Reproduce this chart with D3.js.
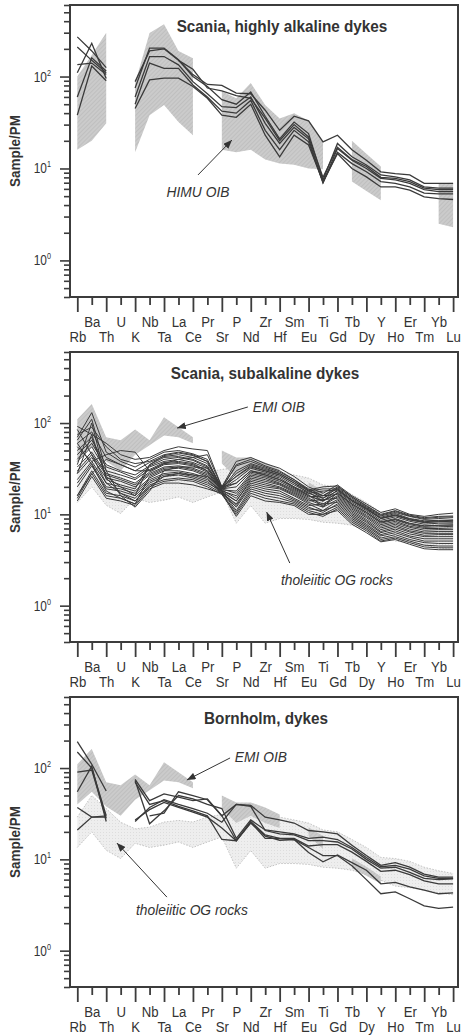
<!DOCTYPE html>
<html>
<head>
<meta charset="utf-8">
<script src="https://cdn.jsdelivr.net/npm/d3@7"></script>
<style>
  body { margin: 0; background: #fff; }
  svg { display: block; }
  text { font-family: "Liberation Sans", Arial, Helvetica, sans-serif; fill: #333; }
</style>
</head>
<body>
<svg id="chart" width="463" height="1035"></svg>
<script>
// Primitive-mantle normalised trace-element order
const elements = ["Rb","Ba","Th","U","K","Nb","Ta","La","Ce","Pr","Sr","P","Nd","Zr","Hf","Sm","Eu","Ti","Gd","Tb","Dy","Y","Ho","Er","Tm","Yb","Lu"];

// HIMU OIB field (Sample/PM), gaps where the reference data have no value
const himuUpper = [100, 172, 300, null, 85, 297, 370, 190, 158, null, 69, 58, 85, 49, 35, 40, 33, 19, null, 20, 14.5, 10.5, null, null, null, 6.9, 7.0];
const himuLower = [16, 20, 31, null, 15, 38, 49, 32, 23, null, 16, 15, 16, 12.5, 11.3, 11, 10, 9.8, null, 7.2, 5.7, 4.5, null, null, null, 2.5, 2.3];

// EMI OIB field
const emiUpper = [110, 162, 70, 65, 85, 65, 116, 90, 70, null, 50, 42, 42, 37, 31, null, 22.5, 18, null, 10.3, 8.3, 6.5, null, null, null, null, null];
const emiLower = [40, 55, 38, 30, 45, 57, 73, 70, 60, null, 36, 25, 30, 25, 22, null, 18, 13, null, 8, 6.6, 5.4, null, null, null, null, null];

// Tholeiitic oceanic-island (OG) rocks field
const tholUpper = [29, 50, 36, 25.5, 21.6, 22.5, 25.6, 26.7, 25.6, 29, 31, 33, 35, 32, 29, 27, 25, 21, 20, 16.5, 13.5, 10.5, 10.2, 9.5, 8.2, 7.5, 7.0];
const tholLower = [13.5, 20, 12.6, 10.2, 15, 13.5, 14.3, 15.5, 13.5, 15.5, 17.6, 8, 12.5, 8, 9, 9, 8.8, 8.2, 8, 7.6, 6.8, 5.9, 5.1, 4.9, 4.6, 4.3, 4.1];

// Scania, highly alkaline dykes
const alkalineSamples = [
  [270, 190, 125, null, 88, 190, 200, 150, 105, 82, 80, 66, 65, 43, 26, 37, 33, 19.5, 23, 16, 12.3, 9.2, 8.8, 8.5, 6.9, 6.9, 6.9],
  [210, 150, 110, null, 75, 204, 204, 152, 100, 78, 56, 50, 68, 37, 21, 32, 24, 7.5, 18.7, 13.4, 10.9, 8.5, 8.1, 7.5, 6.3, 6.1, 6.1],
  [135, 140, 105, null, 60, 165, 165, 134, 88, 65, 47, 46, 60, 31, 18.7, 28, 21, 7.0, 16.5, 12.3, 10, 7.8, 7.5, 6.9, 5.9, 5.6, 5.6],
  [110, 230, 95, null, 50, 140, 123, 123, 81, 60, 42, 40, 55, 26, 16, 26, 19.5, 7.0, 15, 11.3, 9.2, 7.2, 6.9, 6.3, 5.4, 5.3, 5.3],
  [60, 160, 115, null, 45, 92, 96, 96, 78, 58, 38, 36, 50, 23, 13.4, 23, 18, 7.2, 14.5, 10, 8.1, 6.3, 6.3, 5.8, 4.9, 4.7, 4.6],
  [38, 130, 90, null, null, null, null, 150, 120, 75, 70, 62, 58, 35, 20, 30, 22, 8, 17, 12.5, 10.5, 8, 7.8, 7.2, 6.1, 5.9, 5.9]
];

// Scania, subalkaline dykes
const subalkalineSamples = [
  [92, 75, 60, 45, 40, 42, 50, 55, 52, 50, 20, 38, 42, 36, 32, 26, 20, 17, 21, 16, 13, 10.5, 11.5, 10, 9.5, 10, 10.3],
  [70, 130, 48, 38, 33, 40, 48, 50, 46, 40, 19, 35, 40, 34, 30, 24, 19, 16, 20, 15.5, 12.5, 10, 11, 9.8, 9.2, 9.5, 9.6],
  [75, 90, 55, 40, 36, 38, 45, 48, 45, 38, 19, 30, 36, 32, 28, 23, 18.5, 15, 19.5, 15, 12, 9.6, 10.5, 9.5, 8.8, 9, 9.2],
  [60, 80, 42, 35, 30, 37, 43, 45, 42, 36, 20, 26, 34, 30, 27, 22, 18, 19, 19, 14.5, 11.8, 9.3, 10.2, 9, 8.5, 8.6, 8.7],
  [50, 70, 26, 20, 16, 35, 42, 43, 40, 34, 19, 24, 32, 29, 26, 21, 17.5, 14, 18.5, 14, 11.3, 9, 9.8, 8.7, 8.2, 8.3, 8.4],
  [45, 65, 35, 30, 27, 34, 40, 42, 39, 33, 20, 22, 30, 28, 25, 20, 17, 15, 18, 13.5, 11, 8.6, 9.4, 8.4, 7.8, 8, 8],
  [40, 60, 33, 29, 25, 33, 38, 40, 37, 32, 19, 20, 29, 27, 24, 19.5, 16.5, 12, 17.5, 13, 10.6, 8.3, 9, 8, 7.5, 7.6, 7.7],
  [38, 55, 30, 27, 24, 31, 37, 38, 36, 30, 18.5, 18, 28, 26, 23, 19, 16, 14, 17, 12.6, 10.2, 8, 8.7, 7.7, 7.2, 7.3, 7.4],
  [16, 28, 40, 35, 30, 30, 36, 37, 35, 30, 19, 17, 27, 25, 22, 18.5, 15.5, 16, 16.5, 12.2, 9.8, 7.7, 8.4, 7.4, 7, 7, 7.1],
  [33, 48, 28, 25, 22, 29, 35, 36, 34, 29, 18, 16, 26, 24, 21.5, 18, 15, 13, 16, 11.8, 9.5, 7.4, 8.1, 7.2, 6.7, 6.8, 6.8],
  [30, 45, 27, 24, 21, 28, 33, 34, 32, 28, 18.5, 15, 25, 23, 21, 17.5, 14.5, 12.5, 15.5, 11.4, 9.2, 7.1, 7.8, 6.9, 6.4, 6.5, 6.5],
  [28, 42, 25, 23, 20, 27, 32, 33, 31, 27, 18, 14, 24, 22, 20, 17, 14, 14.5, 15, 11, 8.8, 6.8, 7.5, 6.6, 6.2, 6.2, 6.2],
  [60, 35, 18, 15, 13, 26, 31, 32, 30, 26, 17.5, 14, 23, 21, 19.5, 16.5, 13.5, 12, 14.5, 10.6, 8.5, 6.5, 7.2, 6.4, 5.9, 6, 6],
  [24, 38, 22, 20, 18, 25, 30, 30, 28, 25, 17, 13, 22, 20, 19, 16, 13, 11, 14, 10.2, 8.2, 6.3, 6.9, 6.1, 5.7, 5.7, 5.7],
  [22, 36, 20, 19, 17, 24, 28, 29, 27, 24, 17.5, 12.5, 21, 19, 18, 15, 12.5, 13, 13.5, 9.8, 7.8, 6, 6.6, 5.8, 5.4, 5.4, 5.4],
  [20, 34, 19, 18, 16, 23, 27, 28, 26, 23, 17, 12, 20, 18, 17, 14.5, 12, 10.5, 13, 9.4, 7.5, 5.8, 6.3, 5.6, 5.1, 5.1, 5.1],
  [28, 75, 25, 17, 15, 22, 26, 27, 25, 22, 18, 11, 19, 17, 16, 14, 11.5, 11, 12.5, 9, 7.2, 5.5, 6, 5.3, 4.9, 4.8, 4.8],
  [16, 30, 17, 16, 14, 21, 24, 25, 24, 21, 17, 10.5, 18, 16, 15, 13.5, 11, 10, 12, 8.6, 6.9, 5.3, 5.7, 5.1, 4.6, 4.5, 4.5],
  [15, 28, 16, 15, 13, 20, 23, 24, 23, 20, 16.5, 10, 17, 15, 14, 13, 10.5, 9.5, 11.5, 8.2, 6.6, 5.1, 5.5, 4.9, 4.4, 4.3, 4.3],
  [14, 26, 15, 14, 12.5, 19, 22, 22, 21, 19, 17, 9.5, 16, 14, 13.5, 12.5, 10, 10, 11, 7.8, 6.3, 5, 5.3, 4.7, 4.2, 4.1, 4.1],
  [85, 45, 22, 17, 14, 20, 26, 28, 27, 26, 19, 22, 30, 27, 24, 20, 16, 14, 17, 13, 10.5, 8.2, 8.8, 7.9, 7.4, 7.6, 7.6],
  [65, 110, 30, 16, 12, 18, 30, 33, 33, 32, 19, 26, 33, 30, 27, 22, 17, 18, 18.5, 14, 11.5, 9, 9.7, 8.7, 8.1, 8.3, 8.2],
  [55, 38, 45, 50, 48, 30, 36, 40, 42, 45, 20, 34, 38, 33, 29, 24, 18.5, 20, 20.5, 15.5, 12.3, 9.8, 10.8, 9.6, 9, 9.3, 9.4],
  [35, 100, 24, 21, 19, 35, 44, 47, 44, 38, 19.5, 28, 35, 31, 28, 23, 18, 16, 19, 14.2, 11.6, 9.1, 9.9, 8.9, 8.3, 8.5, 8.6]
];

// Bornholm dykes
const bornholmSamples = [
  [195, 110, 56, null, 75, 44, 52, 48, 44, 46, 30, 40, 39, 29, 27, 25, 20.7, 20, 19, 14.3, 11, 8.6, 9.2, 8.2, 6.9, 6.4, 6.4],
  [150, 100, 30, null, 73, 24.5, 34, 50, 46, 40, 36, 17, 27, 21, 20, 19, 17, 17.5, 16.5, 13.5, 10.5, 8.3, 8.6, 7.8, 6.6, 6.2, 6.2],
  [90, 95, 28, null, 26, 37, 45, 40, 36, 32, 25.5, 40, 38, 20.7, 19, 18.5, 16, 16, 15.5, 13, 10, 8, 8.2, 7.2, 6.2, 6, 6.1],
  [55, 105, 26, null, 70, 40, 44, 38, 34, 30, 16.5, 16, 25.5, 17, 17, 17, 14, 14.5, 14.5, 12, 9.5, 7.4, 7.6, 6.8, 5.8, 5.4, 5.4],
  [37, 29, 30, null, null, 30, 32, 55, 50, 45, 30, 16, 25, 18, 16.2, 16.5, 11.9, 9.4, 11.2, 9.2, 7.6, 5.4, 5.6, 5.0, 4.6, 4.2, 4.3],
  [21, 29, 29, null, 27, 35, 42, 37, 33, 29, 22, 16, 26, 18.5, 17, 16.5, 13.5, 11, 11, 8.5, 6.0, 4.2, 4.4, 3.7, 3.1, 2.9, 3.0]
];

const yDomain = [0.4, 600];

const svg = d3.select("#chart");
const frameLeft = 70, frameRight = 458;
const x = d3.scalePoint().domain(elements).range([77.3, 453.1]);
const xi = d3.scaleLinear().domain([0, elements.length - 1]).range([77.3, 453.1]);

const defs = svg.append("defs");

// arrowhead used by the annotations
defs.append("marker")
  .attr("id", "arrowhead")
  .attr("viewBox", "0 0 10 8")
  .attr("refX", 10).attr("refY", 4)
  .attr("markerWidth", 9).attr("markerHeight", 7)
  .attr("markerUnits", "userSpaceOnUse")
  .attr("orient", "auto")
  .append("path").attr("d", "M0,0 L10,4 L0,8 Z").attr("fill", "#333");

// fine diagonal hatching for the OIB fields
const hatch = defs.append("pattern").attr("id", "oibHatch")
  .attr("patternUnits", "userSpaceOnUse").attr("width", 3).attr("height", 3)
  .attr("patternTransform", "rotate(45)");
hatch.append("rect").attr("width", 3).attr("height", 3).attr("fill", "#cbcbcb");
hatch.append("line").attr("x1", 0).attr("y1", 0).attr("x2", 0).attr("y2", 3)
  .attr("stroke", "#b4b4b4").attr("stroke-width", 1);

// light stipple for the tholeiitic field
const stipple = defs.append("pattern").attr("id", "tholStipple")
  .attr("patternUnits", "userSpaceOnUse").attr("width", 3).attr("height", 3);
stipple.append("rect").attr("width", 3).attr("height", 3).attr("fill", "#eeeeee");
stipple.append("rect").attr("x", 1).attr("y", 1).attr("width", 1).attr("height", 1).attr("fill", "#dddddd");

function narrowText(sel, k) {
  sel.each(function () {
    const t = d3.select(this);
    const tx = +t.attr("x") || 0, ty = +t.attr("y") || 0;
    t.attr("x", 0).attr("y", 0).attr("transform", `translate(${tx},${ty}) scale(${k},1)`);
  });
}

const panels = [
  {
    top: 5, bottom: 297, title: "Scania, highly alkaline dykes", titleX: 282,
    fields: [{ upper: himuUpper, lower: himuLower, kind: "oib" }],
    samples: alkalineSamples, lineWidth: 1.3,
    notes: [{ text: "HIMU OIB", at: [8.35, 4.9], from: [8.35, 8.5], to: [10.7, 20.4] }]
  },
  {
    top: 352, bottom: 642, title: "Scania, subalkaline dykes", titleX: 265,
    fields: [{ upper: tholUpper, lower: tholLower, kind: "thol" }, { upper: emiUpper, lower: emiLower, kind: "oib" }],
    samples: subalkalineSamples, lineWidth: 1.0,
    notes: [
      { text: "EMI OIB", at: [13.95, 133], from: [11.8, 150], to: [6.9, 88] },
      { text: "tholeiitic OG rocks", at: [17.96, 1.68], from: [14.7, 2.93], to: [13.1, 10.6] }
    ]
  },
  {
    top: 697, bottom: 987, title: "Bornholm, dykes", titleX: 266,
    fields: [{ upper: tholUpper, lower: tholLower, kind: "thol" }, { upper: emiUpper, lower: emiLower, kind: "oib" }],
    samples: bornholmSamples, lineWidth: 1.3,
    notes: [
      { text: "EMI OIB", at: [12.7, 116], from: [10.57, 129], to: [7.58, 74] },
      { text: "tholeiitic OG rocks", at: [7.93, 2.45], from: [6.2, 3.86], to: [2.74, 15.1] }
    ]
  }
];

panels.forEach(p => {
  const g = svg.append("g");
  const y = d3.scaleLog().domain(yDomain).range([p.bottom, p.top]);

  // compositional fields
  p.fields.forEach(f => {
    const ok = (d, i) => f.upper[i] != null && f.lower[i] != null;
    const area = d3.area().defined(ok)
      .x(d => x(d)).y0((d, i) => y(f.lower[i])).y1((d, i) => y(f.upper[i]));
    g.append("path").attr("d", area(elements))
      .attr("fill", f.kind === "oib" ? "url(#oibHatch)" : "url(#tholStipple)");
    if (f.kind === "thol") {
      [f.upper, f.lower].forEach(edge => {
        const ln = d3.line().defined((d, i) => edge[i] != null).x(d => x(d)).y((d, i) => y(edge[i]));
        g.append("path").attr("d", ln(elements)).attr("fill", "none")
          .attr("stroke", "#b5b5b5").attr("stroke-width", 0.8).attr("stroke-dasharray", "1.5,1.5");
      });
    }
  });

  // sample patterns
  p.samples.forEach(vals => {
    const ln = d3.line().defined((d, i) => vals[i] != null).x(d => x(d)).y((d, i) => y(vals[i]));
    g.append("path").attr("d", ln(elements)).attr("fill", "none")
      .attr("stroke", "#3a3a3a").attr("stroke-width", p.lineWidth).attr("stroke-linejoin", "miter");
  });

  // frame
  g.append("rect").attr("x", frameLeft).attr("y", p.top)
    .attr("width", frameRight - frameLeft).attr("height", p.bottom - p.top)
    .attr("fill", "none").attr("stroke", "#3c3c3c").attr("stroke-width", 2);

  // y axis: decade ticks and minor ticks
  const decades = [1, 10, 100];
  const minors = [];
  for (let e = -1; e <= 2; e++) for (let m = 2; m <= 9; m++) {
    const v = m * Math.pow(10, e);
    if (v >= yDomain[0] && v <= yDomain[1]) minors.push(v);
  }
  const yMinor = g.append("g").attr("transform", `translate(${frameLeft},0)`)
    .call(d3.axisLeft(y).tickValues(minors).tickSize(6).tickFormat(""));
  const yMajor = g.append("g").attr("transform", `translate(${frameLeft},0)`)
    .call(d3.axisLeft(y).tickValues(decades).tickSize(10).tickFormat(""));
  [yMinor, yMajor].forEach(a => {
    a.select(".domain").remove();
    a.selectAll("line").attr("stroke", "#3c3c3c").attr("stroke-width", 1.6);
  });
  decades.forEach(v => {
    const t = g.append("text").attr("x", 51).attr("y", y(v) + 5)
      .attr("text-anchor", "end").attr("font-size", 14);
    t.append("tspan").text("10");
    t.append("tspan").attr("font-size", 8.5).attr("dy", -6).text(Math.round(Math.log10(v)));
    narrowText(t, 0.85);
  });

  // y axis title
  g.append("text")
    .attr("transform", `translate(20,${(p.top + p.bottom) / 2}) rotate(-90) scale(0.9,1)`)
    .attr("text-anchor", "middle").attr("font-size", 15).attr("font-weight", "bold")
    .text("Sample/PM");

  // x axis: long ticks for the lower label row, short ticks for the upper row
  const lower = elements.filter((d, i) => i % 2 === 0);
  const upper = elements.filter((d, i) => i % 2 === 1);
  const xl = g.append("g").attr("transform", `translate(0,${p.bottom})`)
    .call(d3.axisBottom(x).tickValues(lower).tickSize(15));
  const xu = g.append("g").attr("transform", `translate(0,${p.bottom})`)
    .call(d3.axisBottom(x).tickValues(upper).tickSize(8));
  [[xl, 45], [xu, 30]].forEach(([a, row]) => {
    a.select(".domain").remove();
    a.selectAll("line").attr("stroke", "#3c3c3c").attr("stroke-width", 1.8);
    a.selectAll("text")
      .attr("dy", 0).attr("x", 0).attr("y", 0)
      .attr("transform", `translate(0,${row}) scale(0.85,1)`)
      .attr("font-size", 15.5).attr("fill", "#333")
      .style("font-family", '"Liberation Sans", Arial, sans-serif');
  });

  // panel title
  g.append("text")
    .attr("transform", `translate(${p.titleX},${p.top + 27}) scale(0.9,1)`)
    .attr("text-anchor", "middle").attr("font-size", 17).attr("font-weight", "bold")
    .text(p.title);

  // annotations
  p.notes.forEach(n => {
    g.append("line")
      .attr("x1", xi(n.from[0])).attr("y1", y(n.from[1]))
      .attr("x2", xi(n.to[0])).attr("y2", y(n.to[1]))
      .attr("stroke", "#333").attr("stroke-width", 1).attr("marker-end", "url(#arrowhead)");
    g.append("text")
      .attr("transform", `translate(${xi(n.at[0])},${y(n.at[1])}) scale(0.92,1)`)
      .attr("text-anchor", "middle").attr("font-size", 15).attr("font-style", "italic")
      .text(n.text);
  });
});
</script>
</body>
</html>
